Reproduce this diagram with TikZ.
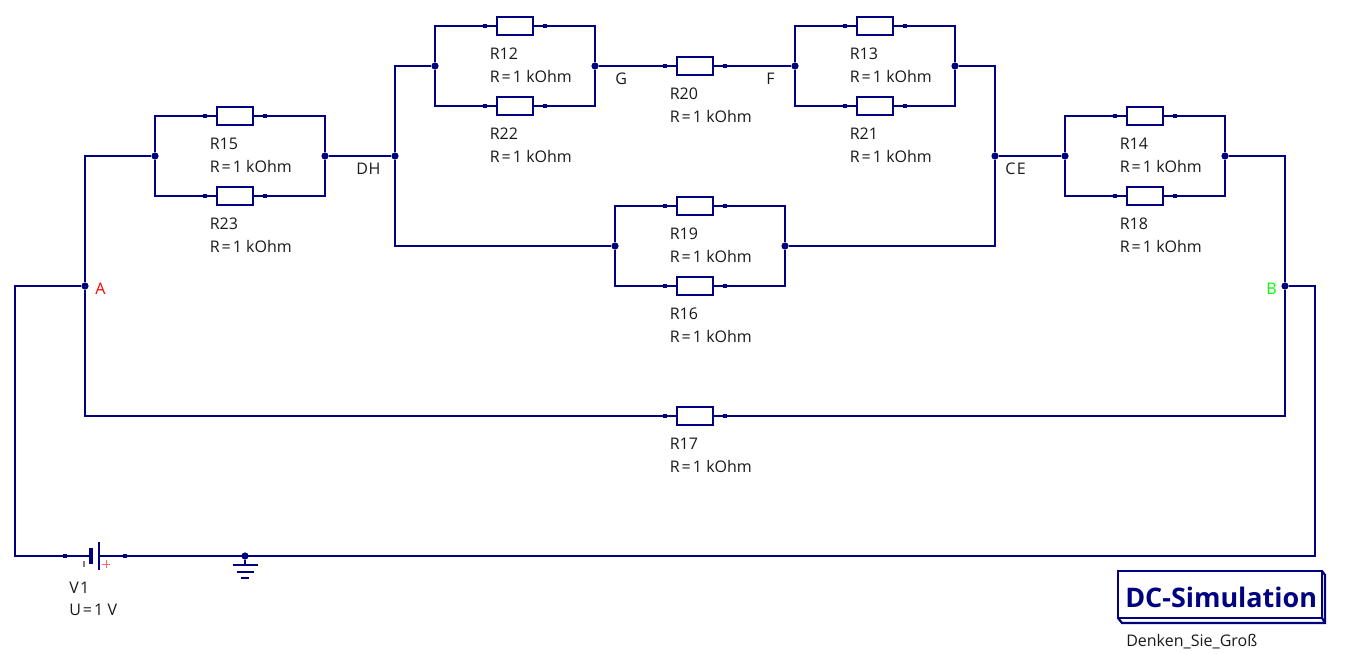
\documentclass[tikz,border=0pt]{standalone}
\usepackage{fontspec}
\setmainfont{Open Sans}
\definecolor{wirecol}{RGB}{0,0,128}
\def\eqsign{\kern1.5pt=\kern1.6pt}
\tikzset{
    wire/.style={wirecol, line width=1.6pt},
    resbody/.style={draw=wirecol, line width=1.6pt, rectangle, inner sep=0pt, outer sep=0pt, minimum width=27pt, minimum height=13.5pt},
    pin/.style={fill=wirecol, rectangle, inner sep=0pt, outer sep=0pt, minimum size=3pt},
    junction/.style={fill=wirecol, circle, inner sep=0pt, outer sep=0pt, minimum size=5.4pt},
    lbl/.style={anchor=base west, inner sep=0pt, font=\fontsize{12}{14}\selectfont, text=black!90}
}

\begin{document}
\begin{tikzpicture}[x=0.75pt, y=-0.75pt]
    \useasboundingbox (0,0) rectangle (1345,654);

    % --- Resistors ---
    \foreach \rname/\x/\y in {R15/235/116, R23/235/196, R12/515/26, R22/515/106, R20/695/66, R13/875/26,
        R21/875/106, R19/695/206, R16/695/286, R14/1145/116, R18/1145/196, R17/695/416} {
        \node[resbody] (\rname) at (\x,\y) {};
        \node[pin] (\rname l) at (\x-30,\y) {};
        \node[pin] (\rname r) at (\x+30,\y) {};
        \draw[wire] (\rname l) -- (\rname);
        \draw[wire] (\rname) -- (\rname r);
        \node[lbl] (\rname name) at (\x-25.5,\y+33) {\rname};
        \node[lbl] (\rname val) at (\x-25.5,\y+56) {R\eqsign 1 kOhm};
    }

    % --- Junctions ---
    \foreach \jname/\x/\y in {JL15/155/156, JR15/325/156, DH/395/156, JL12/435/66, JR12/595/66, JL13/795/66,
        JR13/955/66, JL19/615/246, JR19/785/246, CE/995/156, JL14/1065/156, JR14/1225/156,
        A/85/286, B/1285/286, GND/245/556} {
        \node[junction] (\jname) at (\x,\y) {};
    }

    % Parallel pairs
    \foreach \ra/\rb/\jl/\jr in {R15/R23/JL15/JR15, R12/R22/JL12/JR12, R13/R21/JL13/JR13,
        R19/R16/JL19/JR19, R14/R18/JL14/JR14} {
        \draw[wire] (\ra l) -| (\jl) |- (\rb l);
        \draw[wire] (\ra r) -| (\jr) |- (\rb r);
    }

    % --- Battery ---
    \node[pin] (V1l) at (65,556) {};
    \node[pin] (V1r) at (125,556) {};
    \coordinate (plateN) at (91,556);
    \coordinate (plateP) at (99,556);
    \draw[wire] (V1l) -- (plateN);
    \draw[wire] (plateP) -- (V1r);
    \draw[wirecol, line width=3pt] (91,548) -- (91,564);
    \draw[wire] (99,542) -- (99,570);
    \draw[gray, line width=1pt] (84,561) -- (84,567);
    \draw[red!60, line width=0.75pt] (102,564) -- (110,564) (106,560) -- (106,568);

    % --- Wiring ---
    \coordinate (cornerL) at (15,556);
    \coordinate (cornerR) at (1315,556);
    \draw[wire] (A) |- (JL15);
    \draw[wire] (A) |- (R17l);
    \draw[wire] (A) -| (cornerL) -- (V1l);
    \draw[wire] (B) |- (JR14);
    \draw[wire] (B) |- (R17r);
    \draw[wire] (B) -| (cornerR) -- (V1r);
    \draw[wire] (JR15) -- (DH);
    \draw[wire] (DH) |- (JL12);
    \draw[wire] (DH) |- (JL19);
    \draw[wire] (JR12) -- (R20l);
    \draw[wire] (R20r) -- (JL13);
    \draw[wire] (JR13) -| (CE);
    \draw[wire] (JR19) -| (CE);
    \draw[wire] (CE) -- (JL14);

    % --- Ground ---
    \coordinate (gndTop) at (245,565);
    \draw[wire] (GND) -- (gndTop);
    \draw[wirecol, line width=2pt] (232.5,565) -- (257.5,565);
    \draw[wirecol, line width=2pt] (236.5,572) -- (253.5,572);
    \draw[wirecol, line width=2pt] (241,578) -- (249,578);

    % --- Labels ---
    \node[lbl] (lblV1) at (69,593) {V\kern1pt 1};
    \node[lbl] (lblU) at (69,615) {U\eqsign 1 V};
    \node[lbl] (lblDH) at (356,174) {D\kern0.5pt H};
    \node[lbl] (lblG) at (615,84) {G};
    \node[lbl] (lblF) at (766,84) {F};
    \node[lbl] (lblCE) at (1005,174) {C\kern1.2pt E};
    \node[lbl, text=red] (lblA) at (95,294) {A};
    \node[lbl, text=green] (lblB) at (1266,294) {B};

    % --- Title block ---
    \draw[wire] (1118,571) -- (1322,571) -- (1322,618) -- (1118,618) -- cycle;
    \draw[wire] (1118,618) -- (1122,623) -- (1325,623) -- (1325,575) -- (1322,571);
    \draw[wire] (1322,618) -- (1325,623);
    \node[lbl, font=\fontsize{20.2}{24}\bfseries, text=wirecol] (title) at (1125,607) {DC-Simulation};
    \node[lbl] (subtitle) at (1126,646) {Denken\_Sie\_Groß};
\end{tikzpicture}
\end{document}
